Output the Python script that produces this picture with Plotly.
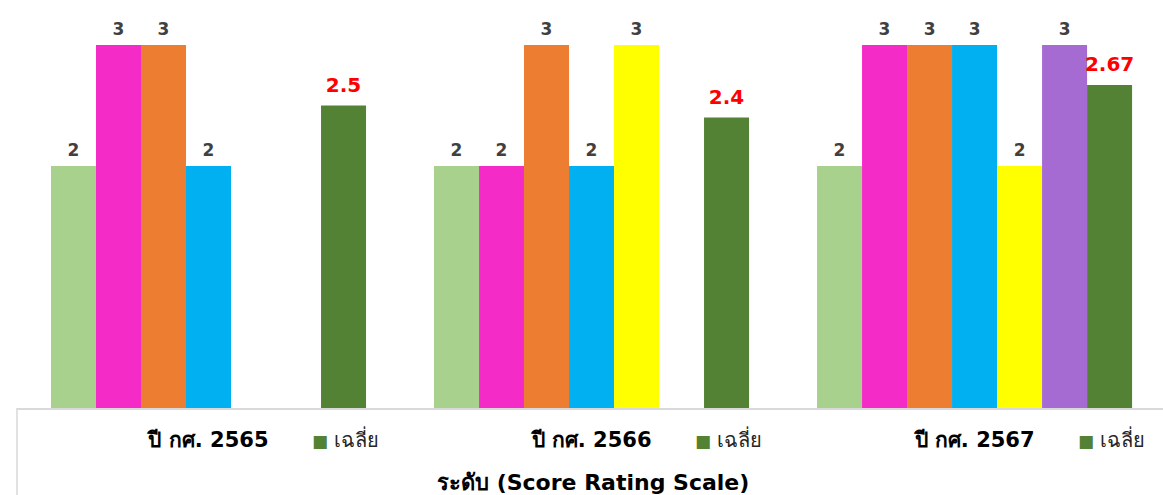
import plotly.graph_objects as go

categories = ["ปี กศ. 2565", "ปี กศ. 2566", "ปี กศ. 2567"]
series_names = ["ด้านที่ 1", "ด้านที่ 2", "ด้านที่ 3", "ด้านที่ 4", "ด้านที่ 5", "ด้านที่ 6", "เฉลี่ย"]
s1 = [2, 2, 2]
s2 = [3, 2, 3]
s3 = [3, 3, 3]
s4 = [2, 2, 3]
s5 = [None, 3, 2]
s6 = [None, None, 3]
avg = [2.5, 2.4, 2.67]
avg_labels = ["2.5", "2.4", "2.67"]
colors = ["#A9D18E", "#F52BC8", "#ED7D31", "#00B0F0", "#FFFF00", "#A66BD3", "#548235"]
axis_title = "ระดับ (Score Rating Scale)"
legend_label = "เฉลี่ย"

all_series = [s1, s2, s3, s4, s5, s6, avg]
FONT = "'DejaVu Sans', Tahoma, sans-serif"

fig = go.Figure()
for i, (name, vals, col) in enumerate(zip(series_names, all_series, colors)):
    fig.add_trace(go.Bar(
        x=categories, y=vals, name=name, marker=dict(color=col, line=dict(width=0)),
        offsetgroup=str(i), showlegend=False, hoverinfo="y+name",
    ))
for i, (name, vals, col) in enumerate(zip(series_names, all_series, colors)):
    is_avg = (i == len(series_names) - 1)
    txt = avg_labels if is_avg else [("" if v is None else str(v)) for v in vals]
    fig.add_trace(go.Scatter(
        x=categories, y=vals, mode="markers+text", text=txt,
        textposition="top center", offsetgroup=str(i), showlegend=False,
        marker=dict(size=8 if not is_avg else 12, opacity=0),
        textfont=dict(family=FONT, size=17 if not is_avg else 20,
                      color="#FF0000" if is_avg else "#404040", weight="bold"),
        hoverinfo="skip", cliponaxis=False,
    ))

annotations = []
for i, c in enumerate(categories):
    annotations.append(dict(
        x=i + 0.358, y=-0.075, xref="x", yref="paper", showarrow=False,
        text=f"<span style='color:{colors[-1]};font-size:17px'>■</span> {legend_label}",
        font=dict(family=FONT, size=20, color="#262626"), xanchor="center", yanchor="middle",
    ))
annotations.append(dict(
    x=585 / 1163, y=-0.182, xref="paper", yref="paper", showarrow=False,
    text=f"<b>{axis_title}</b>", font=dict(family=FONT, size=22, color="#000000"),
    xanchor="center", yanchor="middle",
))

fig.update_layout(
    width=1163, height=495,
    margin=dict(l=17, r=0, t=0, b=87),
    paper_bgcolor="white", plot_bgcolor="white",
    barmode="group", bargap=0.1775, bargroupgap=0,
    scattermode="group", scattergap=0.1775,
    xaxis=dict(range=[-0.5, 2.492], showgrid=False, showline=True, linecolor="#D9D9D9",
               linewidth=1.5, ticks="", ticklabelstandoff=12,
               tickfont=dict(family=FONT, size=21, color="#000000", weight="bold"),
               fixedrange=True),
    yaxis=dict(range=[0, 3.372], visible=False, fixedrange=True),
    annotations=annotations,
    shapes=[dict(type="line", xref="paper", yref="paper", x0=0, x1=0, y0=0, y1=-0.22,
                 line=dict(color="#D9D9D9", width=1.5))],
)

fig.write_html("out.html", config={"displayModeBar": False},
               post_script="document.body.style.margin='0';document.body.style.overflow='hidden';")
